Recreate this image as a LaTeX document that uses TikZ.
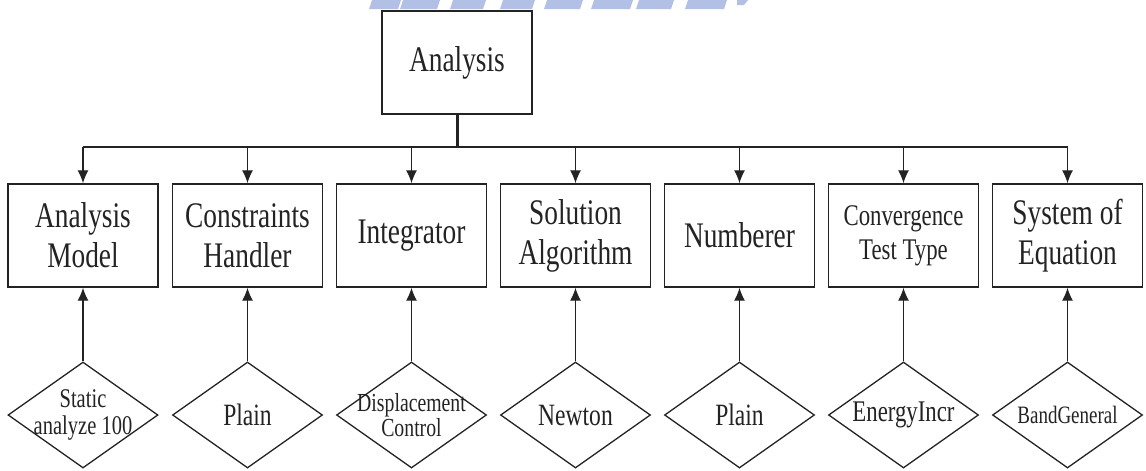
\documentclass[tikz,border=0pt]{standalone}
\usepackage{fontspec}
\setmainfont{Liberation Serif}[FakeStretch=0.76]
\usetikzlibrary{shapes.geometric,arrows.meta}
\definecolor{ink}{RGB}{35,35,35}
\definecolor{wm}{RGB}{178,192,230}
\tikzset{
  box/.style={draw=ink, line width=1.4pt, minimum width=150pt, minimum height=103pt, inner sep=0pt, text=ink, align=center, font=\fontsize{36}{40}\selectfont},
  boxsmall/.style={box, font=\fontsize{30}{34}\selectfont},
  dia/.style={diamond, draw=ink, line width=1.3pt, minimum width=150pt, minimum height=106pt, inner sep=0pt},
  dtext/.style={text=ink, align=center, inner sep=0pt},
  arr/.style={draw=ink, line width=1.3pt, -{Latex[length=13pt,width=11pt]}},
  ln/.style={draw=ink, line width=1.4pt}
}
\begin{document}
\begin{tikzpicture}[x=1pt,y=-1pt]
\useasboundingbox (0,0) rectangle (1146,471);
% watermark fragments at top
\foreach \a/\b in {372/398,403/437,453/483,503/532,547/580,594/630,639/671,688/724}{
  \fill[wm] (\a,0) -- (\b+3,0) -- (\b,9) -- (\a-3,9) -- cycle;
}
\fill[wm] (737,0) -- (748,0) -- (744,5) -- (737,5) -- cycle;
% top node
\node[box] (top) at (457,62.5) {Analysis};
% child boxes
\node[box] (b1) at (83,235.5) {Analysis\\Model};
\node[box] (b2) at (247.5,235.5) {Constraints\\Handler};
\node[box] (b3) at (411.5,235.5) {Integrator};
\node[box] (b4) at (575.5,235.5) {Solution\\Algorithm};
\node[box] (b5) at (739.5,235.5) {Numberer};
\node[boxsmall] (b6) at (903.5,235.5) {Convergence\\Test Type};
\node[box] (b7) at (1067.5,235.5) {System of\\Equation};
% diamonds
\node[dia] (d1) at (83,415) {};
\node[dia] (d2) at (247.5,415) {};
\node[dia] (d3) at (411.5,415) {};
\node[dia] (d4) at (575.5,415) {};
\node[dia] (d5) at (739.5,415) {};
\node[dia] (d6) at (903.5,415) {};
\node[dia] (d7) at (1067.5,415) {};
\node[dtext, font=\fontsize{27}{27}\selectfont] (t1) at (d1.center) {Static\\analyze 100};
\node[dtext, font=\fontsize{31}{34}\selectfont] (t2) at (d2.center) {Plain};
\node[dtext, font=\fontsize{26}{23}\selectfont] (t3) at (d3.center) {Displacement\\Control};
\node[dtext, font=\fontsize{31}{34}\selectfont] (t4) at (d4.center) {Newton};
\node[dtext, font=\fontsize{31}{34}\selectfont] (t5) at (d5.center) {Plain};
\node[dtext, font=\fontsize{30}{34}\selectfont] (t6) at (d6.center) {EnergyIncr};
\node[dtext, font=\fontsize{25}{30}\selectfont] (t7) at (d7.center) {BandGeneral};
% bus
\coordinate (bus) at (457,147);
\draw[draw=ink, line width=3pt] (top.south) -- (bus);
\draw[ln] (b1.north |- bus) -- (b7.north |- bus);
\foreach \i in {1,...,7}{
  \draw[arr] (b\i.north |- bus) -- (b\i.north);
  \draw[arr] (d\i.north) -- (b\i.south);
}
\end{tikzpicture}
\end{document}
